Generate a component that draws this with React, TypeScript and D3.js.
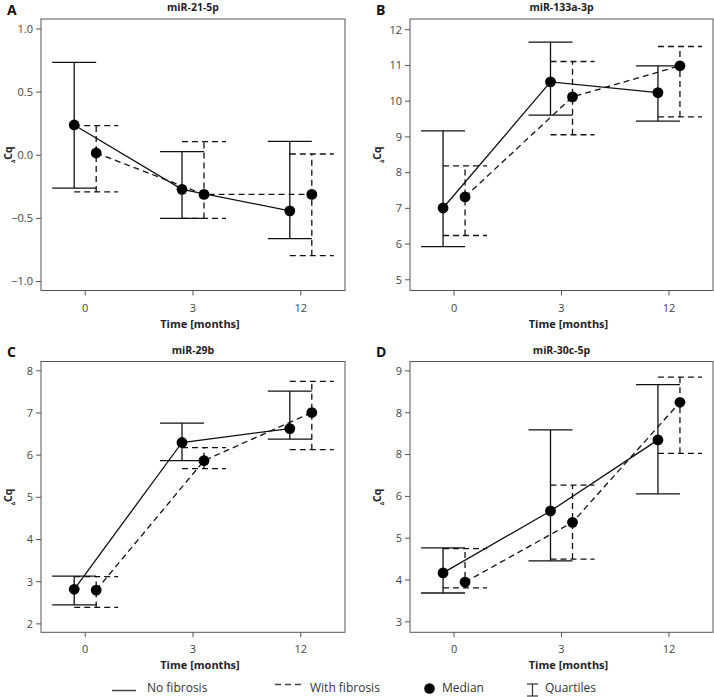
import React from 'react';
import * as d3 from 'd3';

const times = ['0', '3', '12'];

// A: miR-21-5p
const aNoMedian = [0.24, -0.27, -0.44];
const aNoLow = [-0.26, -0.5, -0.66];
const aNoHigh = [0.735, 0.028, 0.11];
const aFibMedian = [0.018, -0.31, -0.31];
const aFibLow = [-0.29, -0.5, -0.795];
const aFibHigh = [0.234, 0.108, 0.01];
const aTicks = [-1, -0.5, 0, 0.5, 1];
const aTickLabels = ['\u22121.0', '\u22120.5', '0.0', '0.5', '1.0'];

// B: miR-133a-3p
const bNoMedian = [7.01, 10.54, 10.24];
const bNoLow = [5.93, 9.61, 9.44];
const bNoHigh = [9.17, 11.65, 10.99];
const bFibMedian = [7.32, 10.12, 10.99];
const bFibLow = [6.24, 9.06, 9.56];
const bFibHigh = [8.19, 11.11, 11.53];
const bTicks = [5, 6, 7, 8, 9, 10, 11, 12];
const bTickLabels = ['5', '6', '7', '8', '9', '10', '11', '12'];

// C: miR-29b
const cNoMedian = [2.82, 6.3, 6.63];
const cNoLow = [2.45, 5.87, 6.38];
const cNoHigh = [3.13, 6.76, 7.52];
const cFibMedian = [2.8, 5.87, 7.01];
const cFibLow = [2.39, 5.68, 6.13];
const cFibHigh = [3.12, 6.18, 7.75];
const cTicks = [2, 3, 4, 5, 6, 7, 8];
const cTickLabels = ['2', '3', '4', '5', '6', '7', '8'];

// D: miR-30c-5p (tick labels as printed in the figure)
const dNoMedian = [4.17, 5.65, 7.35];
const dNoLow = [3.69, 4.46, 6.06];
const dNoHigh = [4.77, 7.59, 8.67];
const dFibMedian = [3.95, 5.38, 8.25];
const dFibLow = [3.81, 4.5, 7.03];
const dFibHigh = [4.75, 6.27, 8.85];
const dTicks = [3, 4, 5, 6, 7, 8, 9];
const dTickLabels = ['3', '4', '5', '6', '8', '8', '9'];

interface Series {
  median: number[];
  low: number[];
  high: number[];
}

interface PanelDef {
  letter: string;
  title: string;
  left: number;
  right: number;
  top: number;
  bottom: number;
  yDomain: [number, number];
  ticks: number[];
  tickLabels: string[];
  no: Series;
  fib: Series;
}

const panels: PanelDef[] = [
  {
    letter: 'A', title: 'miR-21-5p', left: 41, right: 345, top: 19, bottom: 290.5,
    yDomain: [-1.071, 1.079], ticks: aTicks, tickLabels: aTickLabels,
    no: { median: aNoMedian, low: aNoLow, high: aNoHigh },
    fib: { median: aFibMedian, low: aFibLow, high: aFibHigh },
  },
  {
    letter: 'B', title: 'miR-133a-3p', left: 410, right: 713, top: 19, bottom: 290.5,
    yDomain: [4.7, 12.3], ticks: bTicks, tickLabels: bTickLabels,
    no: { median: bNoMedian, low: bNoLow, high: bNoHigh },
    fib: { median: bFibMedian, low: bFibLow, high: bFibHigh },
  },
  {
    letter: 'C', title: 'miR-29b', left: 41, right: 345, top: 361.5, bottom: 632.3,
    yDomain: [1.8, 8.22], ticks: cTicks, tickLabels: cTickLabels,
    no: { median: cNoMedian, low: cNoLow, high: cNoHigh },
    fib: { median: cFibMedian, low: cFibLow, high: cFibHigh },
  },
  {
    letter: 'D', title: 'miR-30c-5p', left: 410, right: 713, top: 361.5, bottom: 632.3,
    yDomain: [2.75, 9.225], ticks: dTicks, tickLabels: dTickLabels,
    no: { median: dNoMedian, low: dNoLow, high: dNoHigh },
    fib: { median: dFibMedian, low: dFibLow, high: dFibHigh },
  },
];

const FONT = '"Open Sans", "Noto Sans", sans-serif';
const DASH = '6,4';
const CAP = 22;
const OFFSET = 11;

const Group = ({ s, x, y, offset, dash }: {
  s: Series;
  x: d3.ScalePoint<string>;
  y: d3.ScaleLinear<number, number>;
  offset: number;
  dash?: string;
}) => {
  const cx = (i: number) => (x(times[i]) || 0) + offset;
  const line = d3.line<number>().x((d, i) => cx(i)).y((d) => y(d));
  return (
    <g stroke="#111" strokeWidth={1.3} fill="none">
      {s.median.map((m, i) => (
        <g key={i} strokeDasharray={dash}>
          <line x1={cx(i)} x2={cx(i)} y1={y(s.low[i])} y2={y(s.high[i])} />
          <line x1={cx(i) - CAP} x2={cx(i) + CAP} y1={y(s.low[i])} y2={y(s.low[i])} />
          <line x1={cx(i) - CAP} x2={cx(i) + CAP} y1={y(s.high[i])} y2={y(s.high[i])} />
        </g>
      ))}
      <path d={line(s.median) || ''} strokeDasharray={dash} />
    </g>
  );
};

const Dots = ({ s, x, y, offset }: {
  s: Series;
  x: d3.ScalePoint<string>;
  y: d3.ScaleLinear<number, number>;
  offset: number;
}) => (
  <g fill="#000">
    {s.median.map((m, i) => (
      <circle key={i} cx={(x(times[i]) || 0) + offset} cy={y(m)} r={5.4} />
    ))}
  </g>
);

const Panel = ({ p }: { p: PanelDef }) => {
  const x = d3.scalePoint<string>().domain(times).range([p.left, p.right]).padding(0.41);
  const y = d3.scaleLinear().domain(p.yDomain).range([p.bottom, p.top]);
  const cx = (p.left + p.right) / 2;
  const cy = (p.top + p.bottom) / 2;
  return (
    <g fontFamily={FONT}>
      <text x={p.left - 34} y={p.top - 4.5} fontSize={14} fontWeight="bold" fill="#111">
        {p.letter}
      </text>
      <text x={cx} y={p.top - 8} fontSize={10.5} fontWeight="bold" textAnchor="middle" fill="#222">
        {p.title}
      </text>
      <rect x={p.left} y={p.top} width={p.right - p.left} height={p.bottom - p.top}
        fill="none" stroke="#555" strokeWidth={1} />
      {p.ticks.map((t, i) => (
        <g key={t}>
          <line x1={p.left - 5} x2={p.left} y1={y(t)} y2={y(t)} stroke="#555" />
          <text x={p.left - 8} y={y(t)} dy="0.35em" fontSize={11} textAnchor="end" fill="#444">
            {p.tickLabels[i]}
          </text>
        </g>
      ))}
      {times.map((t) => (
        <g key={t}>
          <line x1={x(t)} x2={x(t)} y1={p.bottom} y2={p.bottom + 5} stroke="#555" />
          <text x={x(t)} y={p.bottom + 21} fontSize={11} textAnchor="middle" fill="#444">
            {t}
          </text>
        </g>
      ))}
      <text x={cx + 7} y={p.bottom + 37} fontSize={11} fontWeight="bold" textAnchor="middle" fill="#222">
        Time [months]
      </text>
      <text transform={`translate(${p.left - 29},${cy}) rotate(-90)`} fontSize={10.5}
        fontWeight="bold" textAnchor="middle" fill="#222">
        <tspan fontSize={5} dy={3}>Δ</tspan>
        <tspan dy={-3}>Cq</tspan>
      </text>
      <Group s={p.no} x={x} y={y} offset={-OFFSET} />
      <Group s={p.fib} x={x} y={y} offset={OFFSET} dash={DASH} />
      <Dots s={p.no} x={x} y={y} offset={-OFFSET} />
      <Dots s={p.fib} x={x} y={y} offset={OFFSET} />
    </g>
  );
};

const Legend = () => (
  <g fontFamily={FONT} fontSize={12} fill="#333">
    <line x1={112} x2={136} y1={690.5} y2={690.5} stroke="#444" strokeWidth={1.5} />
    <text x={147} y={692}>No fibrosis</text>
    <line x1={275} x2={302} y1={684.5} y2={684.5} stroke="#444" strokeWidth={1.5} strokeDasharray="6,4" />
    <text x={310} y={692}>With fibrosis</text>
    <circle cx={429.5} cy={688.5} r={5.3} fill="#000" />
    <text x={442} y={692}>Median</text>
    <g stroke="#333" strokeWidth={1.2}>
      <line x1={532.5} x2={532.5} y1={684} y2={696} />
      <line x1={527} x2={538} y1={684} y2={684} />
      <line x1={527} x2={538} y1={696} y2={696} />
    </g>
    <text x={545} y={692}>Quartiles</text>
  </g>
);

export default function App() {
  return (
    <svg width={714} height={697} viewBox="0 0 714 697"
      style={{ position: 'absolute', left: 0, top: 0, background: '#fff' }}>
      <rect width={714} height={697} fill="#fff" />
      {panels.map((p) => (
        <Panel key={p.letter} p={p} />
      ))}
      <Legend />
    </svg>
  );
}
